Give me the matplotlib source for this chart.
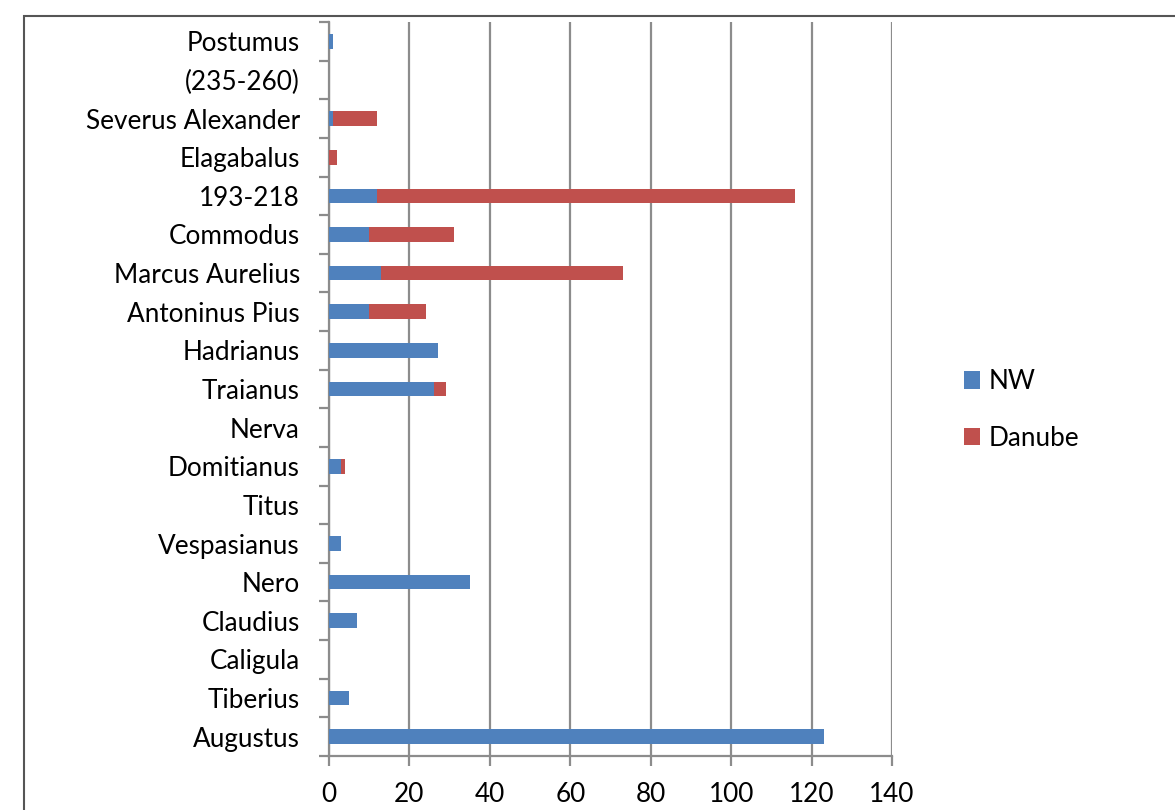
import numpy as np
import matplotlib.pyplot as plt
from matplotlib.patches import Rectangle

# categories bottom -> top
rulers = ['Augustus', 'Tiberius', 'Caligula', 'Claudius', 'Nero', 'Vespasianus',
          'Titus', 'Domitianus', 'Nerva', 'Traianus', 'Hadrianus', 'Antoninus Pius',
          'Marcus Aurelius', 'Commodus', '193-218', 'Elagabalus',
          'Severus Alexander', '(235-260)', 'Postumus']
nw = [123, 5, 0, 7, 35, 3, 0, 3, 0, 26, 27, 10, 13, 10, 12, 0, 1, 0, 1]
danube = [0, 0, 0, 0, 0, 0, 0, 1, 0, 3, 0, 14, 60, 21, 104, 2, 11, 0, 0]
xticks = [0, 20, 40, 60, 80, 100, 120, 140]

plt.rcParams['font.family'] = ['Lato', 'DejaVu Sans']
fs = 18.8

fig = plt.figure(figsize=(11.75, 8.1), dpi=100)
ax = fig.add_axes([329 / 1175, 1 - 756 / 810, (892 - 329) / 1175, (756 - 22) / 810])

# outer chart border (only top and left visible)
fig.add_artist(Rectangle((24 / 1175, -0.1), 1.2, 1 - 16 / 810 + 0.1,
                         transform=fig.transFigure, fill=False,
                         edgecolor='#555555', lw=1.5))

y = np.arange(len(rulers))
ax.barh(y, nw, height=0.38, color='#4F81BD', label='NW', zorder=3)
ax.barh(y, danube, left=nw, height=0.38, color='#C0504D', label='Danube', zorder=3)

ax.set_xlim(0, 140)
ax.set_ylim(-0.5, len(rulers) - 0.5)
ax.set_xticks(xticks)
ax.xaxis.grid(True, color='#8c8c8c', lw=1.6, zorder=0)

ax.set_yticks(y)
ax.set_yticklabels(rulers, va='center_baseline')
ax.set_yticks(np.arange(-0.5, len(rulers)), minor=True)
ax.tick_params(axis='y', which='major', length=0, pad=21, labelsize=fs)
ax.tick_params(axis='y', which='minor', length=7, width=1.6, color='#8c8c8c')
ax.tick_params(axis='x', length=7, width=1.6, color='#8c8c8c', labelsize=fs, pad=12)

for s in ['top', 'right']:
    ax.spines[s].set_visible(False)
for s in ['left', 'bottom']:
    ax.spines[s].set_color('#8c8c8c')
    ax.spines[s].set_linewidth(1.6)

fig.legend(loc='center left', bbox_to_anchor=(940 / 1175, 1 - 410 / 810),
           frameon=False, fontsize=fs, handlelength=0.65, handleheight=0.65,
           labelspacing=1.2, handletextpad=0.3)

fig.savefig('out.png', dpi=100)
